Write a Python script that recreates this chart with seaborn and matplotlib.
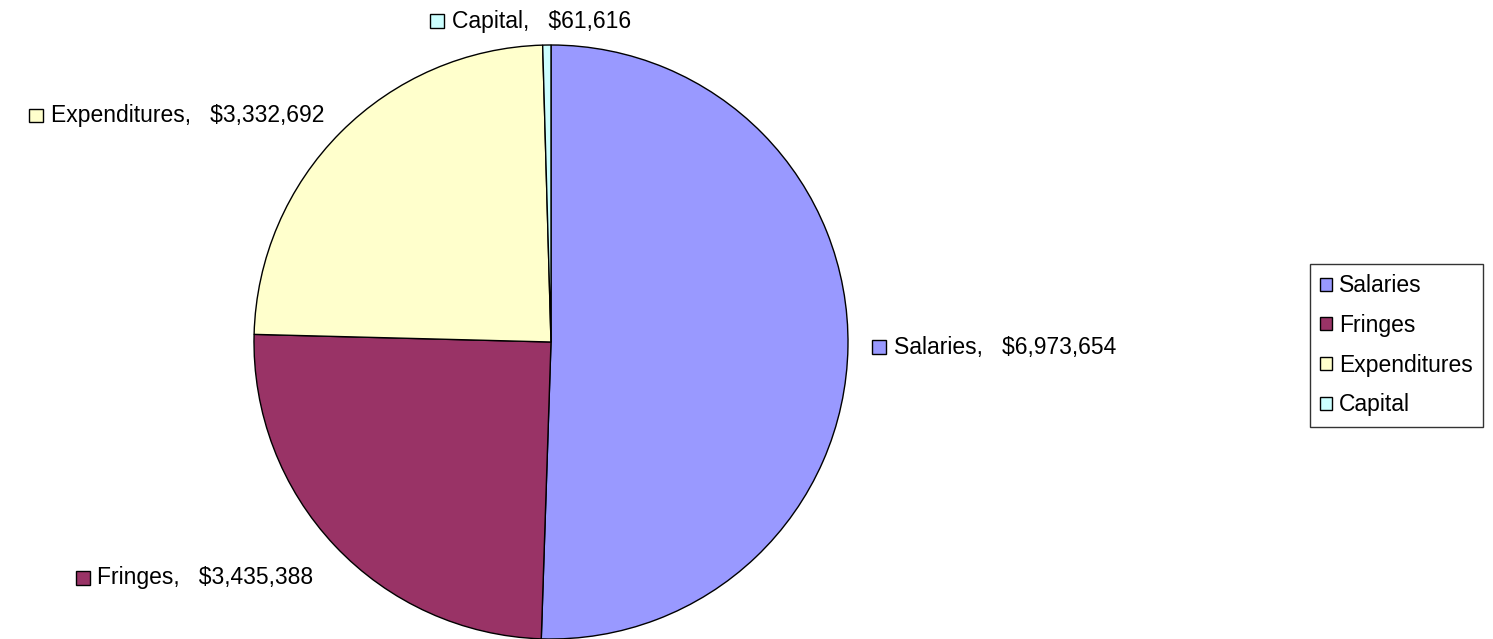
import numpy as np
import seaborn as sns
import matplotlib.pyplot as plt
from matplotlib.patches import Rectangle
from matplotlib.offsetbox import DrawingArea, TextArea, HPacker, AnnotationBbox

# data
categories = ["Salaries", "Fringes", "Expenditures", "Capital"]
amounts = [6973654, 3435388, 3332692, 61616]
label_texts = ["$6,973,654", "$3,435,388", "$3,332,692", "$61,616"]
colors = ["#9999FF", "#993366", "#FFFFCC", "#CCFFFF"]

sns.set_theme(style="white")
plt.rcParams["font.family"] = ["Liberation Sans", "DejaVu Sans"]
palette = sns.color_palette(colors)
FS = 16.5

fig = plt.figure(figsize=(14.93, 6.39), dpi=100)
W, H = 1493, 639
cx, cy, r = 551, 342, 297
ax = fig.add_axes([(cx - r) / W, (H - cy - r) / H, 2 * r / W, 2 * r / H])

wedges, _ = ax.pie(amounts, colors=palette, startangle=90, counterclock=False,
                   radius=1, wedgeprops=dict(edgecolor="black", linewidth=1.0))
for w in wedges:
    w.set_clip_on(False)
ax.set_xlim(-1, 1)
ax.set_ylim(-1, 1)
ax.set_aspect("equal")
ax.axis("off")

# data labels with colored square marker
for w, cat, txt, col in zip(wedges, categories, label_texts, palette):
    mid = np.deg2rad((w.theta1 + w.theta2) / 2)
    dist = 1.1 if np.sin(mid) < -0.3 else 1.08
    x, y = dist * np.cos(mid), dist * np.sin(mid)
    da = DrawingArea(11, 11, 0, 0)
    da.add_artist(Rectangle((0.5, 0.5), 10, 10, facecolor=col, edgecolor="black", linewidth=1.0))
    ta = TextArea(f"{cat},   {txt}", textprops=dict(fontsize=FS, color="black"))
    box = HPacker(children=[da, ta], align="center", pad=0, sep=5)
    va = 1.0 if y < -0.3 else 0.5
    if abs(x) < 0.1:
        align = (0.58, va)
    elif x > 0:
        align = (0.0, va)
    else:
        align = (1.0, va)
    ab = AnnotationBbox(box, (x, y), xycoords="data", box_alignment=align,
                        frameon=False, pad=0, annotation_clip=False)
    ax.add_artist(ab)

leg = ax.legend(wedges, categories, loc="upper left",
                bbox_to_anchor=(1310 / W, 1 - 264 / H), bbox_transform=fig.transFigure,
                borderaxespad=0, fontsize=FS, frameon=True, fancybox=False,
                edgecolor="black", handlelength=0.5, handleheight=0.5,
                handletextpad=0.3, labelspacing=0.73, borderpad=0.45,
                labelcolor="black")
leg.get_frame().set_linewidth(1.0)

fig.savefig("out.png", dpi=100)
